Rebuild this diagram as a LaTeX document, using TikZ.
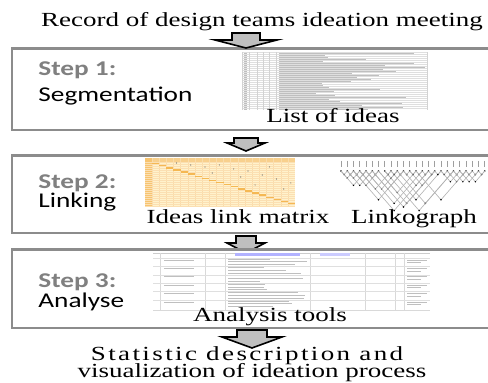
\documentclass[tikz,border=0pt]{standalone}
\usepackage{fontspec}
\usepackage{tikz}
\usetikzlibrary{fit,calc}
\newfontfamily\capfont{Liberation Serif}[FakeStretch=1.35]
\newfontfamily\capwide{Liberation Serif}[FakeStretch=1.35, LetterSpace=12]
\newfontfamily\stepfont{Carlito}[FakeStretch=1.3]
\definecolor{ideayellow}{RGB}{255,242,204}
\definecolor{linkorange}{RGB}{244,176,64}

% block arrow: #1 top centre, #2 shaft half width, #3 head half width, #4 neck depth, #5 tip depth
\newcommand{\blockarrow}[5]{%
  \draw[blockarr] (#1) ++(-#2,0) -- ++({2*#2},0) -- ++(0,#4) -- ++({#3-#2},0)
    -- ++(-#3,{#5-#4}) -- ++(-#3,{#4-#5}) -- ++({#3-#2},0) -- cycle;}
% open box border (the right side runs off the page)
\newcommand{\boxborder}[1]{%
  \draw[boxline] (#1.north east) -- (#1.north west) -- (#1.south west) -- (#1.south east);}

\begin{document}
\begin{tikzpicture}[x=0.5pt, y=-0.5pt,
    caption/.style={font=\capfont\fontsize{10}{12}\selectfont, inner sep=0, anchor=base},
    steplbl/.style={font=\stepfont\bfseries\fontsize{10.5}{12}\selectfont, text=gray, inner sep=0, anchor=base west},
    stepname/.style={font=\stepfont\fontsize{10.5}{12}\selectfont, inner sep=0, anchor=base west},
    stagebox/.style={fill=white, inner sep=0},
    boxline/.style={draw=gray!90, line width=1.1pt},
    blockarr/.style={draw=black, fill=gray!50, line width=0.8pt, line join=miter},
    thinrule/.style={gray!25, line width=0.15pt},
    textbar/.style={gray!50, line width=0.35pt}]
    \useasboundingbox (0,0) rectangle (488,383);
    \pgfmathsetseed{7}

    \node[caption] at (262,27) (record) {Record of design teams ideation meeting};

    % stage boxes
    \node[stagebox, fit={(12,49) (496,130)}] (box1) {};
    \boxborder{box1}
    \node[stagebox, fit={(12,156) (496,233)}] (box2) {};
    \boxborder{box2}

    % arrows between the stages
    \coordinate (a1) at (246,33);
    \blockarrow{a1}{14}{31}{7}{15}
    \coordinate (a2) at (246,138);
    \blockarrow{a2}{12}{19}{5}{13}
    \coordinate (a3) at (246,236);
    \blockarrow{a3}{10}{19}{7}{17}

    \node[stagebox, fit={(12,250) (496,328)}] (box3) {};
    \boxborder{box3}
    \coordinate (a4) at (252,330);
    \blockarrow{a4}{15}{30}{7}{18}

    % Step 1
    \node[steplbl] at (38,76) (step1) {Step 1:};
    \node[stepname] at (38,102) (segm) {Segmentation};

    % list of ideas (sheet)
    \foreach \r in {0,...,28} {
        \draw[thinrule] (242,{52+2*\r}) -- (427,{52+2*\r});
        \pgfmathsetmacro\len{30+rnd*120}
        \draw[textbar] (279,{53+2*\r}) -- ++(\len,0);
        \draw[textbar] (244,{53+2*\r}) -- ++(3,0);
    }
    \foreach \x in {242,249,257,263,269,276,427}
        \draw[gray!35, line width=0.2pt] (\x,52) -- (\x,110);
    \node[caption] at (333,123) (list) {List of ideas};

    % Step 2
    \node[steplbl] at (38,189) (step2) {Step 2:};
    \node[stepname] at (38,208) (link) {Linking};

    % ideas link matrix
    \fill[ideayellow] (145,158) rectangle (295,207);
    \fill[linkorange!60] (145,158) rectangle (295,162);
    \fill[linkorange!75] (145,158) rectangle (152,207);
    \foreach \c in {0,...,19}
        \draw[linkorange!45, line width=0.2pt] ({152+7.15*\c},158) -- ({152+7.15*\c},207);
    \foreach \r in {0,...,22}
        \draw[linkorange!40, line width=0.15pt] (145,{162+2*\r}) -- (295,{162+2*\r});
    \foreach \c in {0,...,19} {
        \pgfmathsetmacro\yy{163+2.1*\c}
        \fill[linkorange!90] ({152+7.15*\c},\yy) rectangle ++(7.15,1.4);
    }
    \foreach \c/\r in {3/0,5/1,7/2,9/1,11/3,13/4,15/6,17/8,8/5,12/7,19/10,16/2,14/11,18/13}
        \fill[black!60] ({155+7.15*\c},{163+2*\r}) circle (0.6);
    \node[caption] at (238,224) (matrix) {Ideas link matrix};

    % linkograph
    \foreach \i in {0,...,23} {
        \draw[gray!75, line width=0.5pt] ({341+6.25*\i},161) -- ({341+6.25*\i},167);
        \fill[black] ({341+6.25*\i},171) circle (0.8);
    }
    \foreach \i/\j in {0/1,0/2,1/2,1/3,2/3,2/4,3/4,3/5,4/6,5/6,0/4,1/5,2/6,3/8,4/9,
        5/10,6/12,7/8,7/9,8/9,9/10,10/11,11/12,12/13,2/10,4/13,6/15,8/16,10/14,
        11/15,13/14,14/15,15/16,16/17,17/18,18/19,19/20,20/21,21/22,22/23,17/20,
        18/21,19/22,20/23,16/19,12/20,5/15,9/18,3/14,7/18} {
        \coordinate (lk) at ({341+6.25*(\i+\j)/2},{171+3.6*(\j-\i)});
        \draw[gray!60, line width=0.3pt] ({341+6.25*\i},171) -- (lk) -- ({341+6.25*\j},171);
        \fill[black] (lk) circle (0.8);
    }
    \node[caption] at (414,224) (linko) {Linkograph};

    % Step 3
    \node[steplbl] at (38,288) (step3) {Step 3:};
    \node[stepname] at (38,308) (anal) {Analyse};

    % analysis table
    \draw[gray!40, line width=0.3pt] (153,253) -- (430,253);
    \fill[blue!30] (235,253) rectangle (300,256);
    \fill[blue!20] (320,253) rectangle (350,256);
    \foreach \x in {160,205,225,310,365,395,404}
        \draw[gray!30, line width=0.2pt] (\x,253) -- (\x,310);
    \foreach \r in {0,...,17} {
        \pgfmathsetmacro\len{20+rnd*60}
        \draw[textbar] (228,{259+2.8*\r}) -- ++(\len,0);
    }
    \foreach \r in {0,3,6,9,12,15} {
        \draw[thinrule] (153,{258+2.8*\r}) -- (430,{258+2.8*\r});
        \draw[textbar] (164,{260+2.8*\r}) -- ++(30,0);
        \draw[textbar] (407,{260+2.8*\r}) -- ++(20,0);
        \draw[textbar] (407,{262.5+2.8*\r}) -- ++(14,0);
    }
    \draw[gray!30, line width=0.3pt] (153,310) -- (430,310);
    \node[caption] at (270,322) (tools) {Analysis tools};

    % outcome
    \node[caption, font=\capwide\fontsize{10}{12}\selectfont] at (247,361) (stat1) {Statistic description and};
    \node[caption] at (252,378) (stat2) {visualization of ideation process};
\end{tikzpicture}
\end{document}
